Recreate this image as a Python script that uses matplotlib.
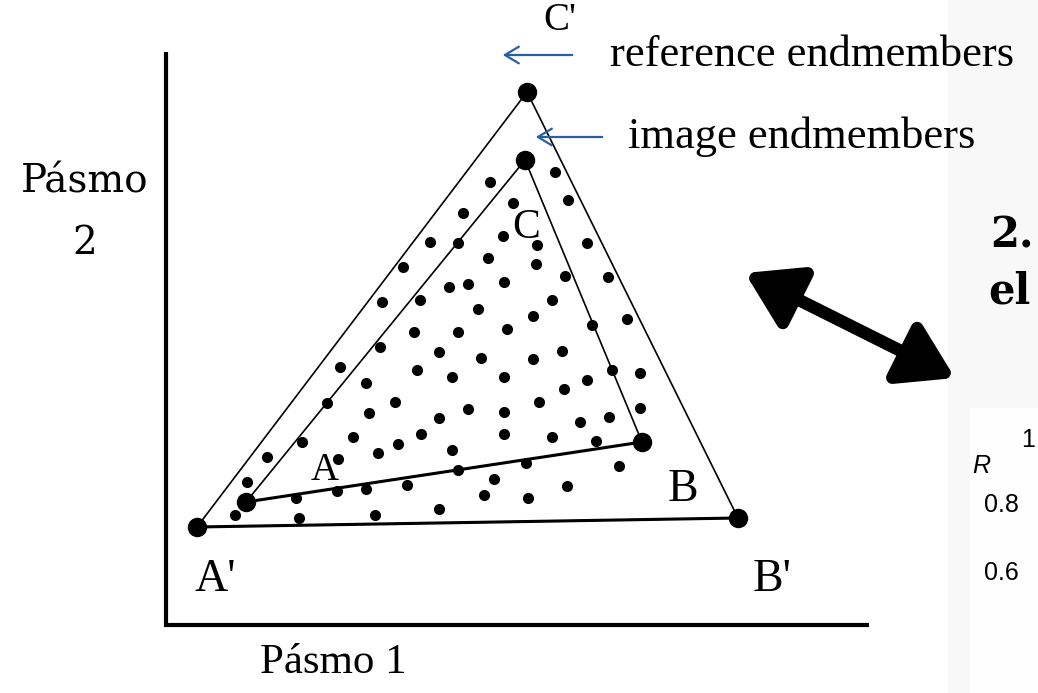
import matplotlib
matplotlib.use("Agg")
import matplotlib.pyplot as plt
from matplotlib.patches import Rectangle, FancyArrowPatch

# ---- data (Band 1 / Band 2 in image pixel units) ----
ref_labels = ["A'", "B'", "C'"]
ref_x = [197, 738, 527]
ref_y = [527, 518, 92]

img_labels = ["A", "B", "C"]
img_x = [246, 642, 525]
img_y = [502, 442, 160]

pix_x = [490, 463, 513, 555, 568, 503, 537, 430, 458, 488, 536, 565, 403, 382, 420,
         449, 468, 504, 478, 533, 552, 414, 458, 507, 380, 439, 481, 533, 562, 340,
         417, 452, 504, 564, 366, 327, 395, 369, 439, 468, 504, 539, 580, 302, 353,
         398, 421, 452, 504, 552, 267, 378, 247, 338, 337, 526, 458, 407, 366, 296,
         494, 484, 528, 567, 439, 375, 299, 235, 587, 608, 627, 592, 612, 640, 587,
         640, 609, 596, 619]
pix_y = [182, 213, 203, 172, 200, 236, 245, 242, 243, 258, 264, 276, 267, 302, 300,
         287, 284, 282, 309, 316, 300, 332, 332, 329, 347, 352, 358, 359, 351, 367,
         370, 377, 377, 389, 383, 403, 402, 413, 418, 409, 412, 402, 422, 442, 437,
         444, 434, 450, 434, 437, 457, 453, 482, 459, 491, 463, 470, 485, 489, 498,
         479, 495, 498, 486, 509, 515, 518, 515, 243, 277, 319, 325, 370, 373, 380,
         408, 417, 441, 466]

W, H = 1038, 693
fig = plt.figure(figsize=(W / 100, H / 100), dpi=100)
ax = fig.add_axes([0, 0, 1, 1])
ax.set_xlim(0, W)
ax.set_ylim(H, 0)
ax.axis("off")

# right-side panel (cut-off slide)
ax.add_patch(Rectangle((948, 0), 100, H, facecolor="#f8f8f8", edgecolor="none", zorder=0))
ax.add_patch(Rectangle((970, 408), 100, 300, facecolor="#fefefe", edgecolor="none", zorder=0))

# axes frame
ax.plot([166, 166, 869], [52, 625, 625], color="black", lw=3, solid_joinstyle="miter",
        solid_capstyle="butt", zorder=2)

# triangles
ax.plot(ref_x + [ref_x[0]], ref_y + [ref_y[0]], color="black", lw=1.2, zorder=3)
ax.plot(img_x + [img_x[0]], img_y + [img_y[0]], color="black", lw=1.2, zorder=3)
ax.plot(ref_x[:2], ref_y[:2], color="black", lw=2.2, zorder=3)
ax.plot(img_x[:2], img_y[:2], color="black", lw=2.2, zorder=3)

# points
ax.plot(pix_x, pix_y, "o", color="black", ms=8, mew=0, zorder=4)
ax.plot(ref_x, ref_y, "o", color="black", ms=14, mew=0, zorder=5)
ax.plot(img_x, img_y, "o", color="black", ms=14, mew=0, zorder=5)

serif = "Liberation Serif"
ax.text(215, 580, "A'", fontsize=33, family=serif, ha="center", va="center")
ax.text(772, 580, "B'", fontsize=33, family=serif, ha="center", va="center")
ax.text(683, 490, "B", fontsize=33, family=serif, ha="center", va="center")
ax.text(526, 228, "C", fontsize=30, family=serif, ha="center", va="center")
ax.text(325, 470, "A", fontsize=28, family=serif, ha="center", va="center")
ax.text(560, 20, "C'", fontsize=28, family=serif, ha="center", va="center")

ax.text(610, 55, "reference endmembers", fontsize=32, family=serif, ha="left", va="center")
ax.text(628, 137, "image endmembers", fontsize=32, family=serif, ha="left", va="center")

blue = "#2a5ea8"
ax.add_patch(FancyArrowPatch((575, 55), (500, 55), arrowstyle="->,head_length=10,head_width=6",
                             color=blue, lw=1.6, mutation_scale=1, zorder=6))
ax.add_patch(FancyArrowPatch((605, 137), (533, 137), arrowstyle="->,head_length=10,head_width=6",
                             color=blue, lw=1.6, mutation_scale=1, zorder=6))

# axis titles
ax.text(85, 182, "Pásmo", fontsize=28, family="DejaVu Serif", ha="center", va="center")
ax.text(85, 243, "2", fontsize=28, family="DejaVu Serif", ha="center", va="center")
ax.text(333, 663, "Pásmo 1", fontsize=31, family=serif, ha="center", va="center")

# double-headed thick arrow
ax.add_patch(FancyArrowPatch((745, 273), (955, 378),
                             arrowstyle="<|-|>,head_length=32,head_width=20",
                             color="black", lw=9, mutation_scale=1, zorder=6,
                             shrinkA=0, shrinkB=0))

# cut-off slide text on the right
ax.text(990, 235, "2.", fontsize=30, family="DejaVu Serif", weight="bold", ha="left", va="center")
ax.text(988, 292, "el", fontsize=30, family="DejaVu Serif", weight="bold", ha="left", va="center")
sans = "Liberation Sans"
ax.text(1021, 440, "1", fontsize=18, family=sans, ha="left", va="center")
ax.text(972, 466, "R", fontsize=18, family=sans, style="italic", ha="left", va="center")
ax.text(984, 505, "0.8", fontsize=18, family=sans, ha="left", va="center")
ax.text(984, 573, "0.6", fontsize=18, family=sans, ha="left", va="center")

fig.savefig("out.png", dpi=100)
